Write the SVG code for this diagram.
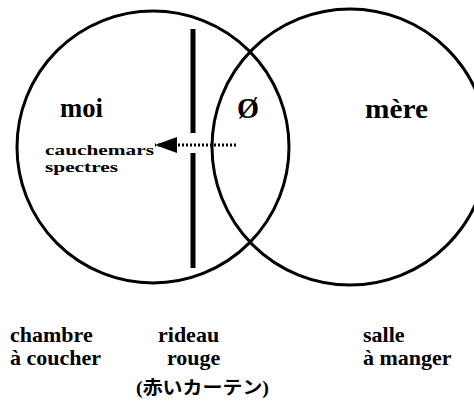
<svg xmlns="http://www.w3.org/2000/svg" width="474" height="401" viewBox="0 0 474 401">
<defs>
<style>
.c{fill:none;stroke:#000;stroke-width:3}
.t{font-family:"Times New Roman","Liberation Serif",Times,serif;font-weight:700;fill:#000}
.j{font-family:"Times New Roman","Liberation Serif","Noto Sans CJK JP",serif;font-weight:700;fill:#000}
</style>
<marker id="ah" markerUnits="userSpaceOnUse" markerWidth="24" markerHeight="18" refX="22" refY="8" orient="auto">
<polygon points="0,0 22,8 0,16" fill="#000"/>
</marker>
</defs>
<rect width="474" height="401" fill="#fff"/>
<g id="moi-circle">
<circle class="c" cx="153" cy="147" r="136"/>
<text class="t" x="60" y="117" font-size="27" textLength="43" lengthAdjust="spacingAndGlyphs">moi</text>
<text class="t" x="45" y="155" font-size="15" textLength="109" lengthAdjust="spacingAndGlyphs">cauchemars</text>
<text class="t" x="45" y="172" font-size="15" textLength="73" lengthAdjust="spacingAndGlyphs">spectres</text>
</g>
<g id="mere-circle">
<circle class="c" cx="350" cy="147" r="138"/>
<text class="t" x="365" y="118" font-size="28" textLength="63" lengthAdjust="spacingAndGlyphs">mère</text>
</g>
<g id="intersection">
<text class="t" x="237" y="118" font-size="30" textLength="22" lengthAdjust="spacingAndGlyphs">Ø</text>
</g>
<g id="curtain">
<line x1="193" y1="29" x2="193" y2="133" stroke="#000" stroke-width="5"/>
<line x1="193" y1="153" x2="193" y2="268" stroke="#000" stroke-width="5"/>
</g>
<g id="connectors">
<line x1="236" y1="145" x2="155" y2="145" stroke="#000" stroke-width="3" stroke-dasharray="2 2" marker-end="url(#ah)"/>
</g>
<g id="label-chambre">
<text class="t" x="10" y="342" font-size="22">chambre</text>
<text class="t" x="10" y="365" font-size="22">à coucher</text>
</g>
<g id="label-rideau">
<text class="t" x="158" y="342" font-size="22">rideau</text>
<text class="t" x="167" y="365" font-size="22">rouge</text>
<text class="j" x="136" y="394" font-size="18" textLength="133" lengthAdjust="spacingAndGlyphs">(赤いカーテン)</text>
</g>
<g id="label-salle">
<text class="t" x="363" y="342" font-size="22">salle</text>
<text class="t" x="363" y="365" font-size="22">à manger</text>
</g>
</svg>
